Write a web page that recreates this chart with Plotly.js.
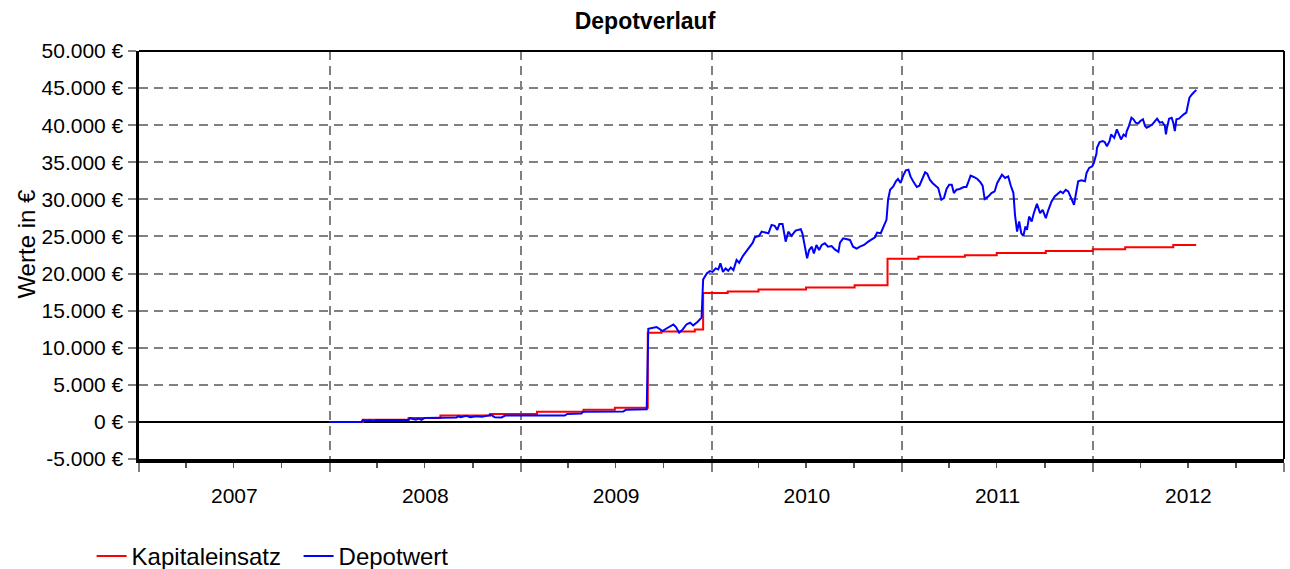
<!DOCTYPE html>
<html>
<head>
<meta charset="utf-8">
<script src="https://cdn.plot.ly/plotly-3.0.1.min.js"></script>
<style>
html,body{margin:0;padding:0;background:#fff;}
#chart{width:1290px;height:569px;}
</style>
</head>
<body>
<div id="chart"></div>
<script>
const chartTitle = "Depotverlauf";
const yTitle = "Werte in €";
const seriesNames = ["Kapitaleinsatz", "Depotwert"];

const kapitalDates = ["2008-01-01","2008-03-05","2008-05-31","2008-07-31","2008-11-03","2009-02-01","2009-05-01","2009-06-30","2009-09-01","2009-09-27","2009-11-30","2009-12-16","2010-02-01","2010-04-01","2010-07-01","2010-10-02","2010-12-04","2011-02-01","2011-05-01","2011-07-01","2011-10-03","2012-01-01","2012-03-03","2012-06-03","2012-07-17"];
const kapitalValues = [0,300,540,850,1080,1355,1630,1900,12020,12200,12470,17390,17570,17840,18110,18430,21990,22260,22450,22760,23035,23265,23535,23850,23850];

const depotDates = ["2008-01-01","2008-03-02","2008-03-04","2008-03-12","2008-03-18","2008-03-25","2008-03-31","2008-05-31","2008-06-03","2008-06-14","2008-06-19","2008-06-25","2008-07-01","2008-08-31","2008-09-03","2008-09-08","2008-09-19","2008-09-26","2008-10-08","2008-10-18","2008-11-02","2008-11-06","2008-11-12","2008-11-25","2008-12-02","2009-03-26","2009-03-31","2009-04-27","2009-04-30","2009-07-16","2009-07-21","2009-08-30","2009-09-02","2009-09-08","2009-09-18","2009-09-23","2009-09-29","2009-10-06","2009-10-13","2009-10-20","2009-10-25","2009-10-31","2009-11-07","2009-11-14","2009-11-21","2009-11-27","2009-12-05","2009-12-13","2009-12-16","2009-12-23","2009-12-29","2010-01-03","2010-01-09","2010-01-14","2010-01-18","2010-01-23","2010-01-28","2010-02-02","2010-02-07","2010-02-12","2010-02-18","2010-02-23","2010-03-02","2010-03-08","2010-03-14","2010-03-21","2010-03-25","2010-04-02","2010-04-07","2010-04-13","2010-04-20","2010-04-26","2010-05-02","2010-05-07","2010-05-11","2010-05-17","2010-05-23","2010-05-28","2010-06-03","2010-06-11","2010-06-16","2010-06-21","2010-06-24","2010-06-29","2010-07-03","2010-07-07","2010-07-12","2010-07-16","2010-07-21","2010-07-26","2010-07-31","2010-08-06","2010-08-12","2010-08-19","2010-08-25","2010-09-01","2010-09-04","2010-09-10","2010-09-17","2010-09-23","2010-09-29","2010-10-06","2010-10-12","2010-10-20","2010-10-28","2010-11-03","2010-11-10","2010-11-14","2010-11-21","2010-11-27","2010-12-02","2010-12-05","2010-12-09","2010-12-15","2010-12-20","2010-12-24","2010-12-29","2011-01-03","2011-01-08","2011-01-13","2011-01-17","2011-01-22","2011-01-29","2011-02-03","2011-02-07","2011-02-14","2011-02-18","2011-02-23","2011-02-28","2011-03-07","2011-03-11","2011-03-17","2011-03-22","2011-03-27","2011-04-01","2011-04-06","2011-04-10","2011-04-15","2011-04-21","2011-04-29","2011-05-04","2011-05-07","2011-05-12","2011-05-18","2011-05-25","2011-05-31","2011-06-04","2011-06-08","2011-06-15","2011-06-21","2011-06-27","2011-07-02","2011-07-06","2011-07-11","2011-07-17","2011-07-23","2011-07-28","2011-08-02","2011-08-05","2011-08-09","2011-08-13","2011-08-17","2011-08-21","2011-08-25","2011-08-28","2011-09-01","2011-09-06","2011-09-10","2011-09-16","2011-09-22","2011-09-27","2011-10-03","2011-10-08","2011-10-14","2011-10-20","2011-10-27","2011-10-31","2011-11-05","2011-11-10","2011-11-15","2011-11-19","2011-11-26","2011-12-01","2011-12-04","2011-12-10","2011-12-17","2011-12-20","2011-12-25","2011-12-31","2012-01-03","2012-01-08","2012-01-09","2012-01-14","2012-01-20","2012-01-24","2012-01-28","2012-02-02","2012-02-05","2012-02-08","2012-02-11","2012-02-16","2012-02-19","2012-02-24","2012-02-29","2012-03-04","2012-03-06","2012-03-10","2012-03-15","2012-03-19","2012-03-23","2012-03-28","2012-04-01","2012-04-06","2012-04-10","2012-04-13","2012-04-19","2012-04-24","2012-04-29","2012-05-03","2012-05-08","2012-05-13","2012-05-18","2012-05-20","2012-05-22","2012-05-26","2012-05-31","2012-06-03","2012-06-06","2012-06-09","2012-06-14","2012-06-19","2012-06-23","2012-06-28","2012-07-01","2012-07-04","2012-07-09","2012-07-14","2012-07-17"];
const depotValues = [0,0,230,150,230,120,270,270,500,310,450,270,540,580,770,630,810,630,770,680,900,900,640,600,850,850,1080,1130,1355,1400,1630,1700,12560,12640,12780,12560,12240,12560,12870,13140,12780,12020,12470,13140,13370,13010,13460,14050,19200,20010,20330,20230,20690,20550,21370,20230,20690,20370,20820,20460,21820,21450,22360,22940,23400,24160,24890,25070,25650,25520,25430,26560,26420,25880,26690,26690,24300,25650,25070,25790,25880,25970,25430,23620,22050,23170,23620,22720,23850,23170,23850,24080,23620,23710,23260,22940,24160,24750,24620,24530,23620,23350,23620,23850,24300,24620,24890,25520,25430,26420,27240,29950,31300,31750,32430,32750,32210,33200,33920,34010,33100,32430,31670,31840,32430,33650,33470,32660,32210,31840,31530,29950,30180,31400,31980,31980,30850,31300,31400,31670,31670,32210,33200,33020,32750,32290,31840,30040,30400,30850,31070,32210,32660,33330,32880,33100,31840,30850,27910,25650,27010,25430,25070,26330,25880,27680,27010,28140,29400,28140,28590,27470,28590,29710,30400,30760,31070,30850,31300,31070,30400,29270,31300,32430,32560,32430,33560,34240,34460,34920,36180,36950,37710,37850,37710,37170,37850,38750,38520,38300,39430,38980,38080,38750,38520,39200,39880,41010,40790,40340,40240,40560,40790,39880,39660,39880,40110,40560,40880,40340,40420,39880,38750,39660,40880,41010,40340,39200,40790,40880,41230,41460,41690,42590,43720,44170,44620,44760];

const yTickVals = [-5000,0,5000,10000,15000,20000,25000,30000,35000,40000,45000,50000];
const yTickText = ["-5.000 €","0 €","5.000 €","10.000 €","15.000 €","20.000 €","25.000 €","30.000 €","35.000 €","40.000 €","45.000 €","50.000 €"];
const xRange = ["2007-01-01","2013-01-01"];

const FONT = "Liberation Sans, Arial, sans-serif";
const GRID = "#808080";

const traces = [
  {x: kapitalDates, y: kapitalValues, name: seriesNames[0], type: "scatter", mode: "lines",
   line: {color: "#ff0000", width: 2, shape: "hv"}},
  {x: depotDates, y: depotValues, name: seriesNames[1], type: "scatter", mode: "lines",
   line: {color: "#0000ff", width: 2}}
];

const layout = {
  width: 1290, height: 569,
  margin: {l: 139, r: 6, t: 51, b: 110},
  paper_bgcolor: "#fff", plot_bgcolor: "#fff",
  font: {family: FONT, size: 20, color: "#000"},
  title: {text: "<b>" + chartTitle + "</b>", font: {family: FONT, size: 23, color: "#000"},
          xref: "container", x: 0.5, xanchor: "center", yref: "container", y: 0.963, yanchor: "middle"},
  showlegend: true,
  legend: {orientation: "h", xref: "container", yref: "container", x: 0.071, y: 0.022,
           xanchor: "left", yanchor: "middle", font: {family: FONT, size: 24, color: "#000"},
           entrywidth: 162, entrywidthmode: "pixels",
           bgcolor: "rgba(0,0,0,0)"},
  xaxis: {
    type: "date", range: xRange, dtick: "M12", tick0: "2007-01-01",
    tickformat: "%Y", ticklabelmode: "period",
    showgrid: true, gridcolor: GRID, gridwidth: 2, griddash: "9px,6px",
    ticks: "outside", ticklen: 9, tickwidth: 2, tickcolor: GRID,
    ticklabelstandoff: 6,
    tickfont: {family: FONT, size: 21, color: "#000"},
    showline: true, linecolor: "#000", linewidth: 3.5,
    zeroline: false,
    minor: {dtick: "M3", tick0: "2007-01-01", ticks: "outside", ticklen: 5, tickwidth: 1.5, tickcolor: "#555", showgrid: false}
  },
  yaxis: {
    range: [-5000, 50000], tickvals: yTickVals, ticktext: yTickText,
    showgrid: true, gridcolor: GRID, gridwidth: 2, griddash: "9px,6px",
    ticks: "outside", ticklen: 8, tickwidth: 2, tickcolor: GRID,
    tickfont: {family: FONT, size: 21, color: "#000"},
    showline: true, linecolor: "#000", linewidth: 3.5,
    zeroline: true, zerolinecolor: "#000", zerolinewidth: 2
  },
  annotations: [
    {text: yTitle, xref: "paper", yref: "paper", x: -0.0978, y: 0.528, xanchor: "center", yanchor: "middle",
     textangle: -90, showarrow: false, font: {family: FONT, size: 24, color: "#000"}}
  ],
  shapes: [
    {type: "line", xref: "paper", yref: "paper", x0: 0, x1: 1, y0: 1, y1: 1, line: {color: "#000", width: 2}},
    {type: "line", xref: "paper", yref: "paper", x0: 1, x1: 1, y0: 0, y1: 1, line: {color: "#000", width: 2}}
  ]
};

Plotly.newPlot("chart", traces, layout, {displayModeBar: false, staticPlot: true});
</script>
</body>
</html>
